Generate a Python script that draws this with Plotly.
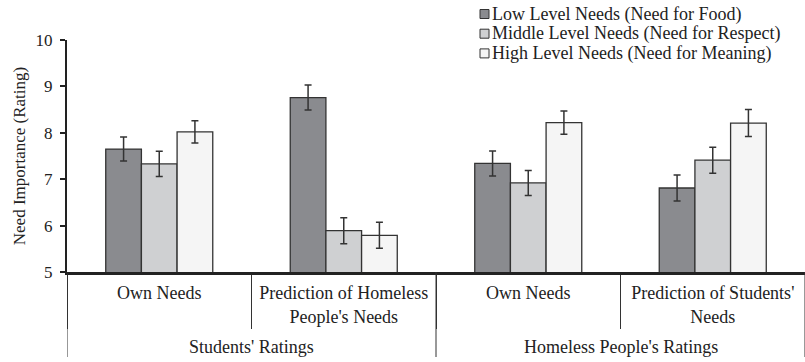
import plotly.graph_objects as go

# Inner categories (what was rated) and outer groups (who rated)
targets = ["Own Needs", "Prediction of Homeless<br>People's Needs",
           "Own Needs", "Prediction of Students'<br>Needs"]
rater_groups = ["Students' Ratings", "Homeless People's Ratings"]
positions = [0, 1, 2, 3]

series_names = ["Low Level Needs (Need for Food)",
                "Middle Level Needs (Need for Respect)",
                "High Level Needs (Need for Meaning)"]

low_means = [7.65, 8.76, 7.34, 6.81]
low_err = [0.26, 0.27, 0.27, 0.28]
mid_means = [7.33, 5.89, 6.92, 7.41]
mid_err = [0.27, 0.28, 0.27, 0.28]
high_means = [8.02, 5.79, 8.22, 8.21]
high_err = [0.24, 0.28, 0.25, 0.29]

fills = ["#8a8b8f", "#cfd0d2", "#f5f5f5"]
edge = "#333333"
ink = "#222222"
serif = "Liberation Serif, Times New Roman, serif"

W, H = 805, 362
ML, MR, MT, MB = 67, 0, 40, 90
plot_w = W - ML - MR
plot_h = H - MT - MB


def px_x(px):
    return (px - ML) / plot_w


def px_y(py):
    return (H - MB - py) / plot_h


fig = go.Figure()
for name, means, errs, fill in zip(series_names,
                                   [low_means, mid_means, high_means],
                                   [low_err, mid_err, high_err],
                                   fills):
    fig.add_trace(go.Bar(
        x=positions,
        y=means,
        name=name,
        showlegend=False,
        marker=dict(color=fill, line=dict(color=edge, width=1.3)),
        error_y=dict(type="data", array=errs, visible=True,
                     color=edge, thickness=1.5, width=3.5),
    ))

# Compact key in the top-right corner
row_centers = [14, 33.7, 53.4]
for name, fill, yc in zip(series_names, fills, row_centers):
    fig.add_shape(type="rect", xref="paper", yref="paper",
                  x0=px_x(480), x1=px_x(489),
                  y0=px_y(yc + 4.5), y1=px_y(yc - 4.5),
                  fillcolor=fill, line=dict(color=edge, width=1))
    fig.add_annotation(xref="paper", yref="paper", x=px_x(490), y=px_y(yc),
                       xanchor="left", yanchor="middle", showarrow=False,
                       text=name, font=dict(family=serif, size=18, color=ink))

# Outer group labels and full-height dividers
for i, grp in enumerate(rater_groups):
    centre = (positions[2 * i] + positions[2 * i + 1]) / 2
    fig.add_annotation(xref="x", yref="paper", x=centre, y=px_y(347),
                       xanchor="center", yanchor="middle", showarrow=False,
                       text=grp, font=dict(family=serif, size=18, color=ink))
for xb in [positions[0] - 0.5, positions[2] - 0.5, positions[3] + 0.5]:
    fig.add_shape(type="line", xref="x", yref="paper",
                  x0=xb, x1=xb, y0=0, y1=px_y(357),
                  line=dict(color=edge, width=1))

fig.update_layout(
    width=W, height=H,
    margin=dict(l=ML, r=MR, t=MT, b=MB),
    plot_bgcolor="white", paper_bgcolor="white",
    barmode="group", bargap=0.42, bargroupgap=0,
    font=dict(family=serif, size=17, color=ink),
    showlegend=False,
    xaxis=dict(
        range=[-0.5, 3.5],
        tickmode="array", tickvals=positions, ticktext=targets,
        ticks="", ticklabelstandoff=3,
        showline=True, linecolor=ink, linewidth=2.5,
        minor=dict(ticks="outside", ticklen=54, tickcolor=edge, tickwidth=1,
                   tickmode="array",
                   tickvals=[p - 0.5 for p in positions] + [positions[-1] + 0.5],
                   showgrid=False),
        tickfont=dict(family=serif, size=18, color=ink),
        showgrid=False, zeroline=False,
    ),
    yaxis=dict(
        range=[5, 10], dtick=1,
        showline=True, linecolor=ink, linewidth=2,
        ticks="outside", ticklen=5, tickcolor=ink, tickwidth=1.5,
        ticklabelstandoff=4,
        tickfont=dict(family=serif, size=17, color=ink),
        showgrid=False, zeroline=False,
        title=dict(text="Need Importance (Rating)",
                   font=dict(family=serif, size=17, color=ink),
                   standoff=6),
    ),
)

fig.write_html("out.html")
